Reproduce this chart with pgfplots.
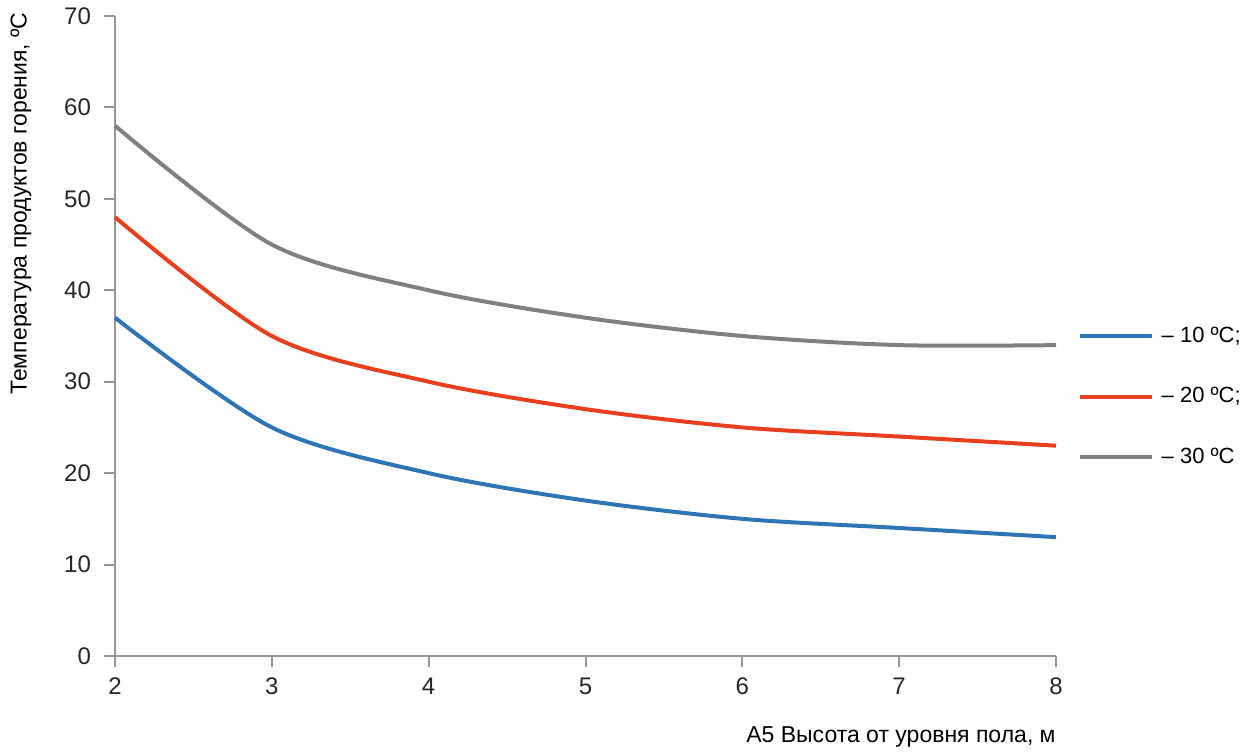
\documentclass[border=0pt]{standalone}
\usepackage{pgfplots}
\pgfplotsset{compat=1.18}
\usepackage{fontspec}
\setmainfont{Liberation Sans}
\definecolor{cblue}{RGB}{46,117,182}
\definecolor{cred}{RGB}{232,64,30}
\definecolor{cgray}{RGB}{128,128,128}
\definecolor{caxis}{RGB}{150,150,150}
\begin{document}
\begin{tikzpicture}
\useasboundingbox (-57.5pt,-48.5pt) rectangle (572.5pt,328pt);
\begin{axis}[
  at={(0,0)}, anchor=south west,
  scale only axis, width=470.5pt, height=320pt,
  xmin=2, xmax=8, ymin=0, ymax=70,
  xtick={2,...,8}, ytick={0,10,...,70},
  axis x line*=bottom, axis y line*=left,
  axis line style={caxis, line width=1pt, -},
  tick style={caxis, line width=1pt},
  tick align=outside, major tick length=5.5pt,
  tick label style={font=\fontsize{12}{14}\selectfont, text=black!85},
  /pgf/number format/assume math mode=true,
  xticklabel style={yshift=-2pt},
  yticklabel style={xshift=-3pt},
  legend style={at={(1.023,0.405)}, anchor=west, draw=none, fill=none,
    font=\fontsize{11}{13}\selectfont, row sep=17pt, inner sep=0pt},
  legend cell align=left,
  legend image code/.code={\draw[#1] (0pt,0pt) -- (36pt,0pt);},
  clip=false,
]
\addplot[cblue, line width=2pt, smooth, tension=0.5] coordinates {(2,37) (3,25) (4,20) (5,17) (6,15) (7,14) (8,13)};
\addlegendentry{\,– 10 ºC;}
\addplot[cred, line width=2pt, smooth, tension=0.5] coordinates {(2,48) (3,35) (4,30) (5,27) (6,25) (7,24) (8,23)};
\addlegendentry{\,– 20 ºC;}
\addplot[cgray, line width=2pt, smooth, tension=0.5] coordinates {(2,58) (3,45) (4,40) (5,37) (6,35) (7,34) (8,34)};
\addlegendentry{\,– 30 ºC}
\node[anchor=north east, font=\fontsize{11.5}{13}\selectfont, inner sep=0pt] at ([yshift=-35pt]rel axis cs:1,0) {A5 Высота от уровня пола, м};
\node[rotate=90, anchor=east, font=\fontsize{11.5}{13}\selectfont, inner sep=0pt] at ([xshift=-47pt, yshift=2pt]rel axis cs:0,1) {Температура продуктов горения, ºС};
\end{axis}
\end{tikzpicture}
\end{document}
